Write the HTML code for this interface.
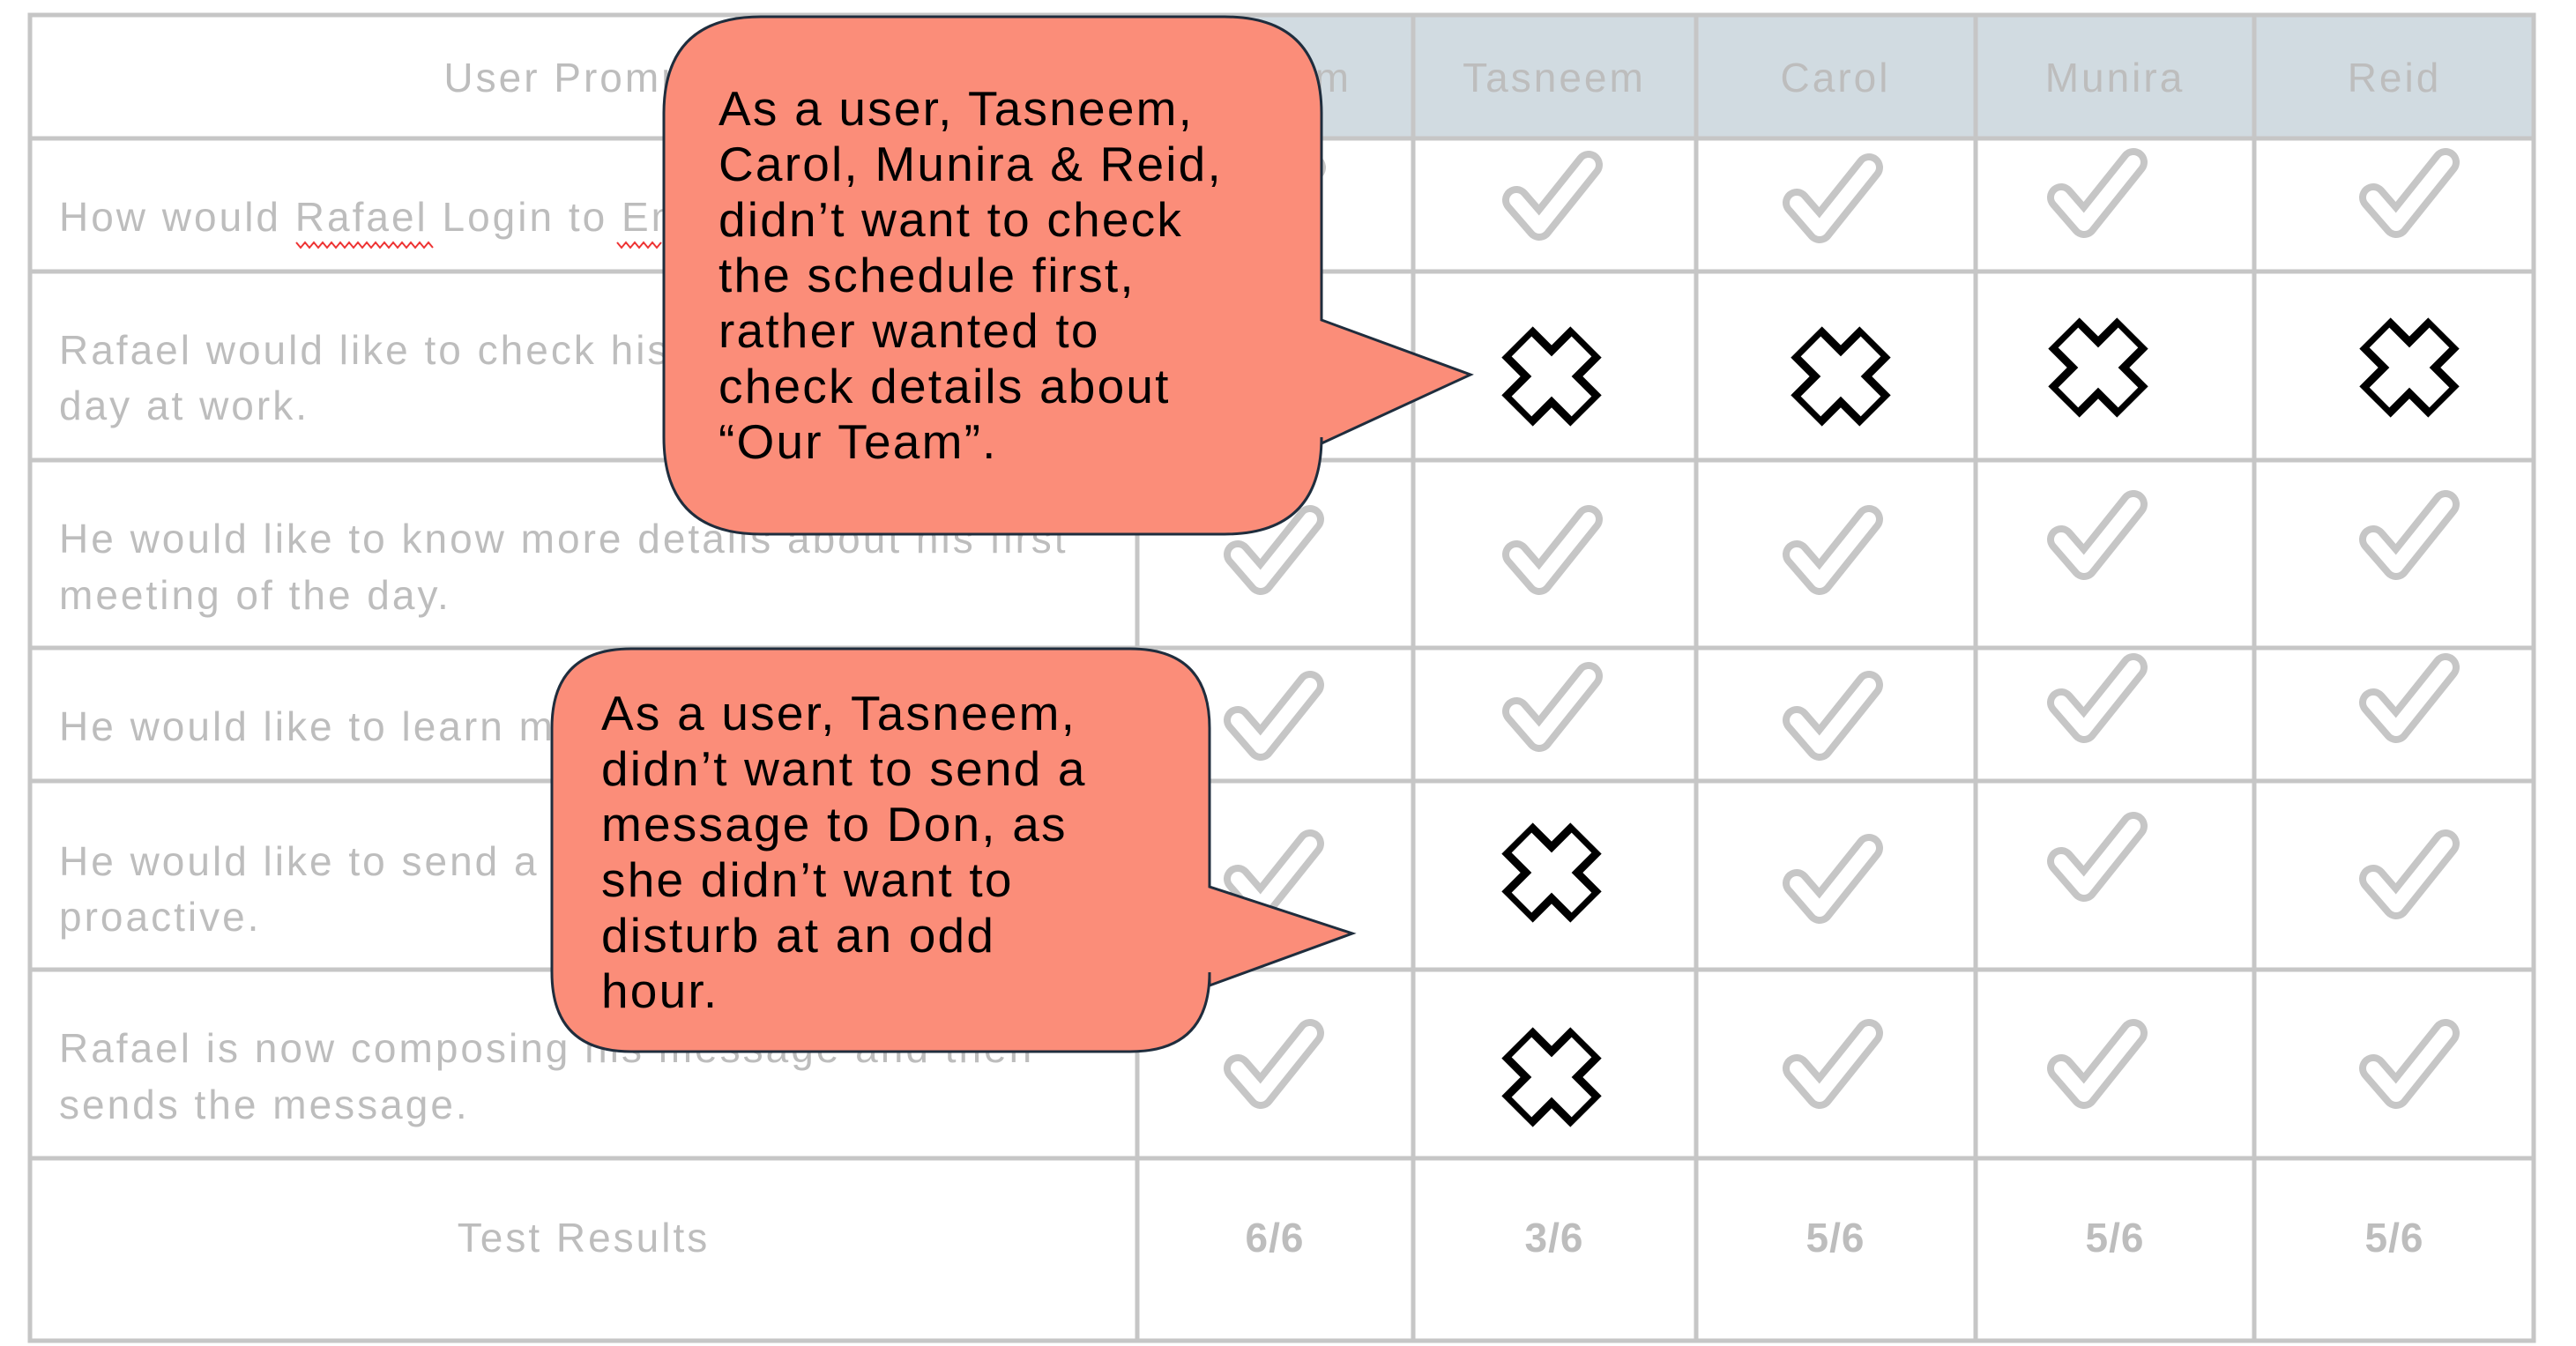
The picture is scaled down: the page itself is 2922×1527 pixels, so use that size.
<!DOCTYPE html>
<html><head><meta charset="utf-8"><style>
html,body{margin:0;padding:0;background:#fff;}
svg{display:block;}
text{font-family:"Liberation Sans",sans-serif;}
</style></head><body>
<svg width="2922" height="1527" viewBox="0 0 2922 1527" xmlns="http://www.w3.org/2000/svg">
<defs>
<g id="ck"><path d="M-40,2 L-14,32 L42,-38" fill="none" stroke="#c6c6c6" stroke-width="32" stroke-linejoin="round" stroke-linecap="round"/><path d="M-40,2 L-14,32 L42,-38" fill="none" stroke="#fff" stroke-width="16" stroke-linejoin="round" stroke-linecap="round"/></g>
<g id="xx"><path d="M-39,-39 L39,39 M39,-39 L-39,39" stroke="#000" stroke-width="50" stroke-linejoin="round"/><path d="M-34,-34 L34,34 M34,-34 L-34,34" stroke="#fff" stroke-width="32"/></g>
</defs>
<rect x="1290" y="17" width="1584" height="140" fill="#d1dbe1"/>
<g stroke="#c6c6c6" stroke-width="5" fill="none">
<rect x="34" y="17" width="2840" height="1504"/>
<line x1="34" y1="157" x2="2874" y2="157"/><line x1="34" y1="308" x2="2874" y2="308"/>
<line x1="34" y1="522" x2="2874" y2="522"/><line x1="34" y1="735" x2="2874" y2="735"/>
<line x1="34" y1="886" x2="2874" y2="886"/><line x1="34" y1="1100" x2="2874" y2="1100"/>
<line x1="34" y1="1314" x2="2874" y2="1314"/>
<line x1="1290" y1="17" x2="1290" y2="1521"/><line x1="1603" y1="17" x2="1603" y2="1521"/>
<line x1="1924" y1="17" x2="1924" y2="1521"/><line x1="2241" y1="17" x2="2241" y2="1521"/>
<line x1="2557" y1="17" x2="2557" y2="1521"/>
</g>
<g fill="#bdbdbd" font-size="46" dominant-baseline="central" letter-spacing="3">
<text x="662" y="88" text-anchor="middle">User Prompts</text>
<text x="1446" y="88" text-anchor="middle">Hisham</text>
<text x="1763" y="88" text-anchor="middle">Tasneem</text>
<text x="2082" y="88" text-anchor="middle">Carol</text>
<text x="2399" y="88" text-anchor="middle">Munira</text>
<text x="2716" y="88" text-anchor="middle">Reid</text>
<text x="67" y="246">How would Rafael Login to Employee app?</text>
<text x="67" y="397">Rafael would like to check his schedule for the</text>
<text x="67" y="460">day at work.</text>
<text x="67" y="611">He would like to know more details about his first</text>
<text x="67" y="675">meeting of the day.</text>
<text x="67" y="824">He would like to learn more about his team.</text>
<text x="67" y="977">He would like to send a message to Don, to be</text>
<text x="67" y="1040">proactive.</text>
<text x="67" y="1189">Rafael is now composing his message and then</text>
<text x="67" y="1253">sends the message.</text>
<text x="662" y="1404" text-anchor="middle">Test Results</text>
<g font-weight="bold" letter-spacing="1">
<text x="1446" y="1404" text-anchor="middle">6/6</text>
<text x="1763" y="1404" text-anchor="middle">3/6</text>
<text x="2082" y="1404" text-anchor="middle">5/6</text>
<text x="2399" y="1404" text-anchor="middle">5/6</text>
<text x="2716" y="1404" text-anchor="middle">5/6</text>
</g>
</g>
<polyline points="336,275 341,281 346,275 351,281 356,275 361,281 366,275 371,281 376,275 381,281 386,275 391,281 396,275 401,281 406,275 411,281 416,275 421,281 426,275 431,281 436,275 441,281 446,275 451,281 456,275 461,281 466,275 471,281 476,275 481,281 486,275 491,281" fill="none" stroke="#e33" stroke-width="2"/>
<polyline points="700,275 705,281 710,275 715,281 720,275 725,281 730,275 735,281 740,275 745,281 750,275" fill="none" stroke="#e33" stroke-width="2"/>
<use href="#ck" x="1446" y="228"/><use href="#ck" x="1760" y="225"/><use href="#ck" x="2078" y="228"/><use href="#ck" x="2378" y="222"/><use href="#ck" x="2732" y="222"/>
<use href="#xx" x="1760" y="427"/><use href="#xx" x="2088" y="427"/><use href="#xx" x="2380" y="417"/><use href="#xx" x="2733" y="417"/>
<use href="#ck" x="1444" y="627"/><use href="#ck" x="1760" y="627"/><use href="#ck" x="2078" y="627"/><use href="#ck" x="2378" y="610"/><use href="#ck" x="2732" y="610"/>
<use href="#ck" x="1444" y="815"/><use href="#ck" x="1760" y="805"/><use href="#ck" x="2078" y="815"/><use href="#ck" x="2378" y="795"/><use href="#ck" x="2732" y="795"/>
<use href="#ck" x="1444" y="995"/><use href="#xx" x="1760" y="990"/><use href="#ck" x="2078" y="1000"/><use href="#ck" x="2378" y="975"/><use href="#ck" x="2732" y="995"/>
<use href="#ck" x="1444" y="1210"/><use href="#xx" x="1760" y="1222"/><use href="#ck" x="2078" y="1210"/><use href="#ck" x="2378" y="1210"/><use href="#ck" x="2732" y="1210"/>
<path d="M863,19 L1389,19 Q1499,19 1499,129 L1499,363 L1668,425 L1499,503 L1499,496 Q1499,606 1389,606 L863,606 Q753,606 753,496 L753,129 Q753,19 863,19 Z" fill="#fb8d79" stroke="#1f2d3d" stroke-width="3"/>
<g font-size="55" fill="#000" dominant-baseline="central" letter-spacing="2.2">
<text x="815" y="123">As a user, Tasneem,</text>
<text x="815" y="186">Carol, Munira &amp; Reid,</text>
<text x="815" y="249">didn’t want to check</text>
<text x="815" y="312">the schedule first,</text>
<text x="815" y="375">rather wanted to</text>
<text x="815" y="438">check details about</text>
<text x="815" y="501">“Our Team”.</text>
</g>
<path d="M716,736 L1282,736 Q1372,736 1372,826 L1372,1006 L1534,1059 L1372,1118 L1372,1103 Q1372,1193 1282,1193 L716,1193 Q626,1193 626,1103 L626,826 Q626,736 716,736 Z" fill="#fb8d79" stroke="#1f2d3d" stroke-width="3"/>
<g font-size="55" fill="#000" dominant-baseline="central" letter-spacing="2.2">
<text x="682" y="809">As a user, Tasneem,</text>
<text x="682" y="872">didn’t want to send a</text>
<text x="682" y="935">message to Don, as</text>
<text x="682" y="998">she didn’t want to</text>
<text x="682" y="1061">disturb at an odd</text>
<text x="682" y="1124">hour.</text>
</g>
</svg>
</body></html>
